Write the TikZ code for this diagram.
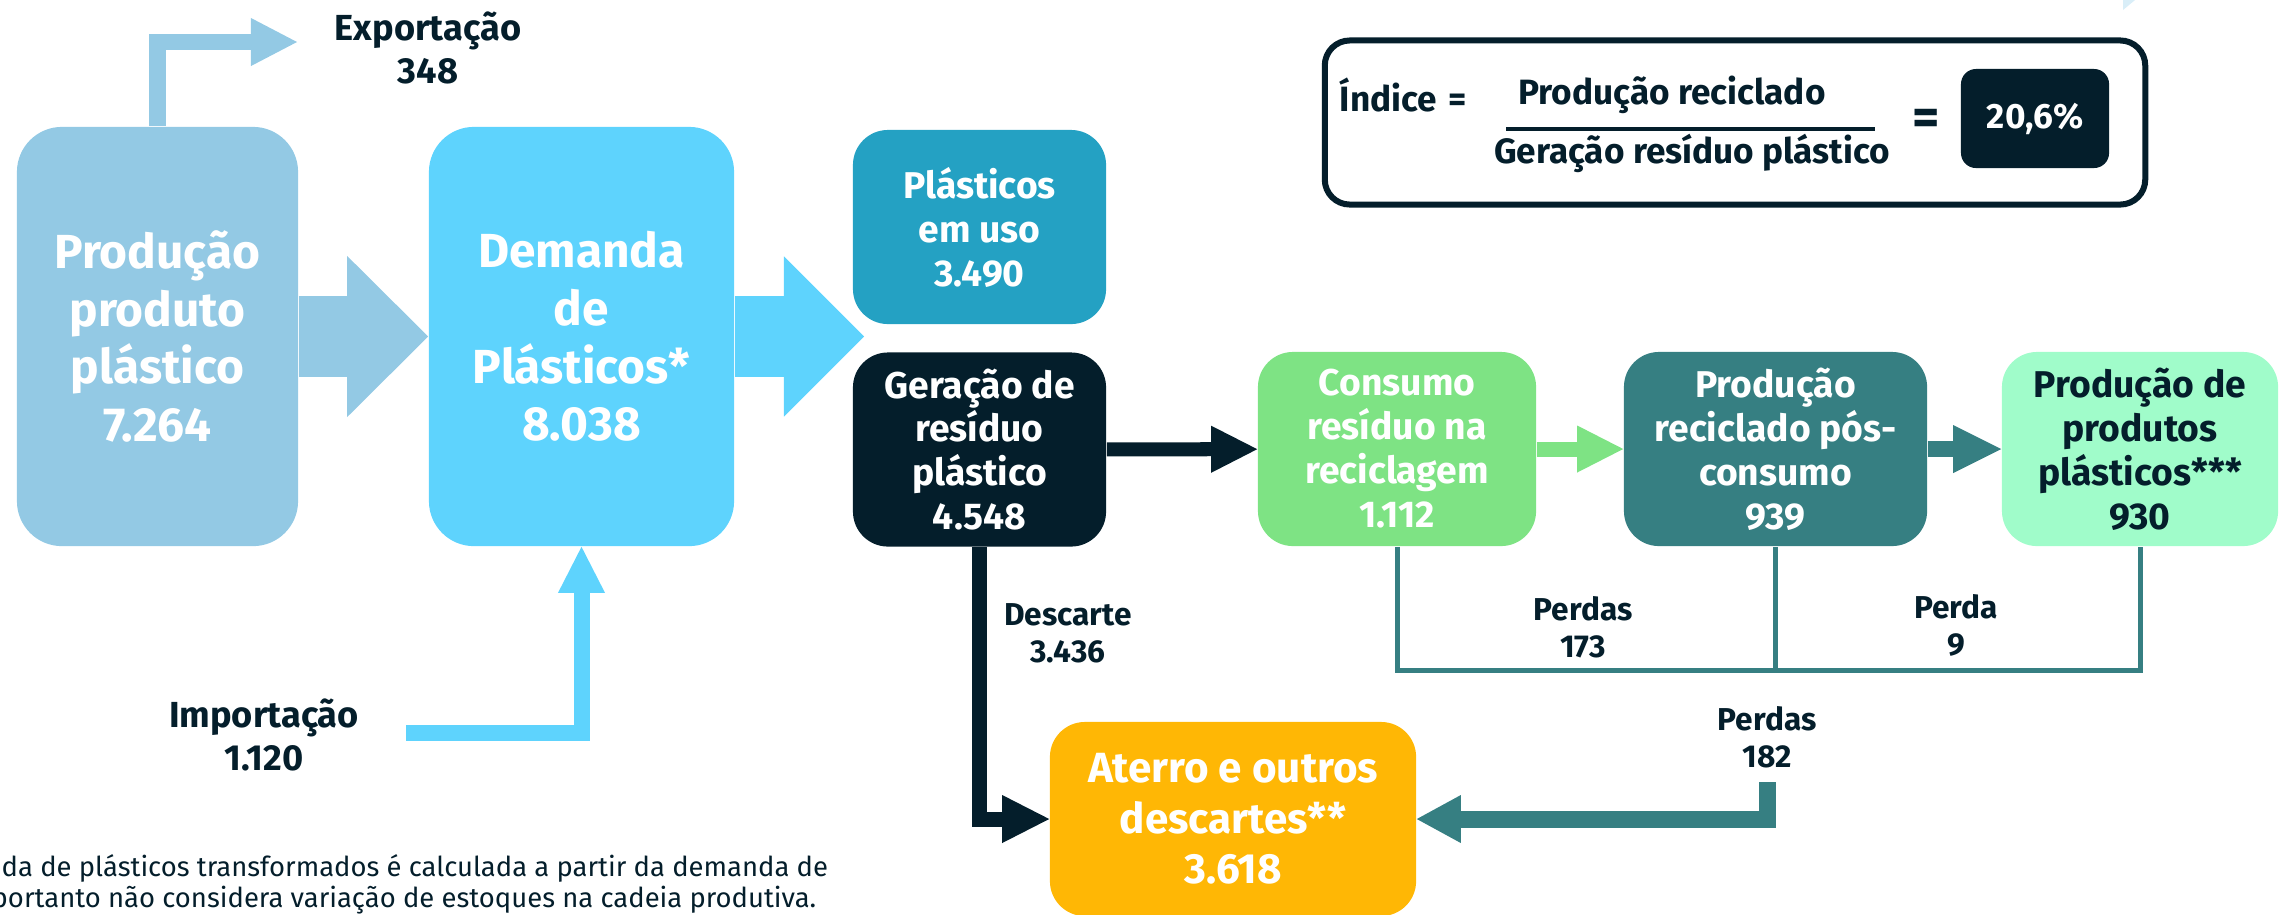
\documentclass[tikz,border=0pt]{standalone}
\usepackage{fontspec}
\setmainfont{Fira Sans}
\usetikzlibrary{arrows.meta}
\usetikzlibrary{positioning}

\definecolor{prodblue}{HTML}{93C9E4}
\definecolor{demblue}{HTML}{5ED3FD}
\definecolor{usoblue}{HTML}{24A1C3}
\definecolor{navy}{HTML}{041E2B}
\definecolor{recgreen}{HTML}{7EE384}
\definecolor{recteal}{HTML}{367F82}
\definecolor{mint}{HTML}{A0FCCA}
\definecolor{aterro}{HTML}{FFB705}
\definecolor{fragblue}{HTML}{D9EEF8}

\begin{document}
\begin{tikzpicture}[x=0.01cm,y=-0.01cm,
  box/.style={rounded corners=3.5mm,align=center,inner sep=0pt,text=white,
    minimum height=19.4mm,font=\bfseries\fontsize{10.6}{12.5}\selectfont},
  bigbox/.style={box,rounded corners=4.5mm,minimum height=41.9mm,
    font=\bfseries\fontsize{13.6}{16.4}\selectfont},
  lbl/.style={align=center,text=navy,font=\bfseries\fontsize{9}{10.5}\selectfont},
  biglbl/.style={lbl,font=\bfseries\fontsize{10.3}{12.3}\selectfont},
  fat/.style args={#1/#2/#3}{line width=#1,
    -{Triangle[length=#2,width=#3,line width=0pt]}},
  lossline/.style={recteal,line width=0.5mm}]
 \useasboundingbox (0,0) rectangle (2283,914);
 \fill[fragblue] (2123,0) -- (2135,0) -- (2123,10) -- cycle;
 % caixas do fluxo
 \node[bigbox,fill=prodblue,minimum width=28.1mm] (prod) at (157.5,336.5) {Produção\\produto\\plástico\\7.264};
 \node[bigbox,fill=demblue,minimum width=30.5mm] (dem) at (581.5,336.5) {Demanda\\de\\Plásticos*\\8.038};
 \node[box,fill=usoblue,minimum width=25.3mm] (uso) at (979.5,227) {Plásticos\\em uso\\3.490};
 \node[box,fill=navy,minimum width=25.3mm] (ger) at (979.5,449.5) {Geração de\\resíduo\\plástico\\4.548};
 \node[box,fill=recgreen,minimum width=27.8mm] (con) at (1397,449) {Consumo\\resíduo na\\reciclagem\\1.112};
 \node[box,fill=recteal,minimum width=30.3mm] (prec) at (1775.5,449) {Produção\\reciclado pós-\\consumo\\939};
 \node[box,fill=mint,text=navy,minimum width=27.6mm] (pprod) at (2140,449) {Produção de\\produtos\\plásticos***\\930};
 \node[box,fill=aterro,minimum width=36.6mm,font=\bfseries\fontsize{12}{14.4}\selectfont] (ater) at (1233,819) {Aterro e outros\\descartes**\\3.618};
 % rótulos
 \node[biglbl] (explab) at (428,48) {Exportação\\348};
 \node[biglbl] (implab) at (264,735) {Importação\\1.120};
 \node[lbl] (deslab) at (1068,633) {Descarte\\3.436};
 \node[lbl] (loss1) at (1583,627) {Perdas\\173};
 \node[lbl] (loss2) at (1956,625) {Perda\\9};
 \node[lbl] (loss3) at (1767,737) {Perdas\\182};
 \coordinate (exptip) at (297,42);
 \coordinate (impstart) at (406,733);
 \coordinate (split) at (864,336.5);
 \coordinate (lossstart) at (1767.5,782);
 % setas
 \draw[prodblue,fat=8.1mm/8.1mm/16.1mm] (prod) -- (dem);
 \draw[demblue,fat=8.1mm/8mm/16mm] (dem) -- (split);
 \draw[prodblue,fat=1.6mm/4.6mm/4.8mm] (prod.north) |- (exptip);
 \draw[demblue,fat=1.6mm/4.6mm/4.7mm] (impstart) -| (dem.south);
 \draw[navy,fat=1.4mm/4.6mm/4.7mm] (ger) -- (con);
 \draw[recgreen,fat=1.5mm/4.6mm/4.7mm] (con) -- (prec);
 \draw[recteal,fat=1.6mm/4.8mm/4.8mm] (prec) -- (pprod);
 \draw[navy,fat=1.5mm/4.7mm/4.8mm] (ger.south) |- (ater.west);
 \draw[recteal,fat=1.7mm/4.4mm/4.8mm] (lossstart) |- (ater.east);
 \draw[lossline] (con.south) -- ++(0,124) -| (pprod.south);
 \draw[lossline] (prec.south) -- ++(0,124);
 % índice
 \node[draw=navy,line width=0.6mm,rounded corners=2.5mm,minimum width=82mm,minimum height=16.4mm] (idx) at (1735,122.5) {};
 \node[lbl,anchor=west,inner sep=0pt,font=\bfseries\fontsize{10}{12}\selectfont] (idxname) at (1339,95) {Índice\,\,=};
 \node[lbl,font=\bfseries\fontsize{10}{12}\selectfont] (num) at (1672,95) {Produção reciclado};
 \node[lbl,font=\bfseries\fontsize{10}{12}\selectfont] (den) at (1692,153) {Geração resíduo plástico};
 \coordinate (barl) at (1506,128.5);
 \coordinate (barr) at (1875,128.5);
 \draw[navy,line width=0.4mm] (barl) -- (barr);
 \node[lbl,font=\bfseries\fontsize{15}{15}\selectfont] (eq) at (1926,122) {=};
 \node[fill=navy,text=white,rounded corners=1.5mm,minimum width=14.8mm,minimum height=9.9mm,font=\bfseries\fontsize{10}{12}\selectfont] (val) at (2035,118.5) {20,6\%};
 % nota
 \node[anchor=west,inner sep=0pt,text=navy,font=\fontsize{7.8}{9}\selectfont] (foot1) at (1,868) {da de plásticos transformados é calculada a partir da demanda de};
 \node[anchor=west,inner sep=0pt,text=navy,font=\fontsize{7.8}{9}\selectfont] (foot2) at (-9,900) {portanto não considera variação de estoques na cadeia produtiva.};
\end{tikzpicture}
\end{document}
